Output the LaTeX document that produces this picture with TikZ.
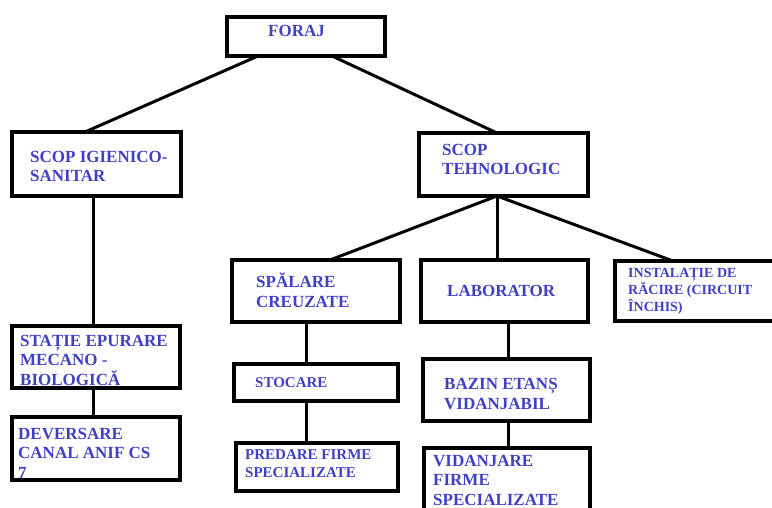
\documentclass[tikz,border=0pt]{standalone}
\usepackage{fontspec}
\setmainfont{Liberation Serif}
\definecolor{labelblue}{RGB}{64,64,196}
\tikzset{
  box/.style={draw=black, line width=3.3pt, rectangle, inner sep=0pt, outer sep=0pt, anchor=north west},
  link/.style={draw=black, line width=3pt},
  lbl/.style={text=labelblue, anchor=base west, align=left, inner sep=0pt,
              font=\fontsize{17}{19.2}\selectfont\bfseries},
  lblsmall/.style={lbl, font=\fontsize{14}{16.6}\selectfont\bfseries},
  lblmid/.style={lbl, font=\fontsize{15}{17.4}\selectfont\bfseries},
}
\begin{document}
\begin{tikzpicture}[x=1pt,y=-1pt]
\useasboundingbox (0,0) rectangle (772,508);
\clip (0,0) rectangle (772,508);

% boxes
\node[box, minimum width=158, minimum height=39] (foraj) at (227,17) {};
\node[box, minimum width=169, minimum height=64] (igien) at (12,132) {};
\node[box, minimum width=169, minimum height=63] (tehno) at (419,133) {};
\node[box, minimum width=168, minimum height=62] (statie) at (12,326) {};
\node[box, minimum width=168, minimum height=63] (dever) at (12,417) {};
\node[box, minimum width=168, minimum height=62] (spal) at (232,260) {};
\node[box, minimum width=167, minimum height=62] (lab) at (421,260) {};
\node[box, minimum width=190, minimum height=60] (racire) at (615,261) {};
\node[box, minimum width=164, minimum height=37] (stoc) at (234,364) {};
\node[box, minimum width=162, minimum height=48] (pred) at (236,443) {};
\node[box, minimum width=167, minimum height=62] (bazin) at (423,359) {};
\node[box, minimum width=166, minimum height=80] (vidan) at (424,448) {};

% connectors
\draw[link] (258,0 |- foraj.south) -- (85,0 |- igien.north);
\draw[link] (332,0 |- foraj.south) -- (497,0 |- tehno.north);
\draw[link] (93,0 |- igien.south) -- (93,0 |- statie.north);
\draw[link] (93,0 |- statie.south) -- (93,0 |- dever.north);
\draw[link] (497,0 |- tehno.south) -- (330,0 |- spal.north);
\draw[link] (497,0 |- tehno.south) -- (497,0 |- lab.north);
\draw[link] (497,0 |- tehno.south) -- (673,0 |- racire.north);
\draw[link] (306,0 |- spal.south) -- (306,0 |- stoc.north);
\draw[link] (306,0 |- stoc.south) -- (306,0 |- pred.north);
\draw[link] (508,0 |- lab.south) -- (508,0 |- bazin.north);
\draw[link] (508,0 |- bazin.south) -- (508,0 |- vidan.north);

% labels (placed at the baseline of their last line)
\node[lbl] (tforaj) at (268,37) {FORAJ};
\node[lbl] (tigien) at (30,182) {SCOP IGIENICO-\\SANITAR};
\node[lbl] (ttehno) at (442,175) {SCOP\\TEHNOLOGIC};
\node[lbl] (tstatie) at (20,385) {STAȚIE EPURARE\\MECANO -\\BIOLOGICĂ};
\node[lbl] (tdever) at (18,478) {DEVERSARE\\CANAL ANIF CS\\7};
\node[lbl] (tspal) at (256,307) {SPĂLARE\\CREUZATE};
\node[lbl] (tlab) at (447,297) {LABORATOR};
\node[lblsmall] (tracire) at (628,311) {INSTALAȚIE DE\\RĂCIRE (CIRCUIT\\ÎNCHIS)};
\node[lblmid] (tstoc) at (255,387) {STOCARE};
\node[lblmid] (tpred) at (245,477) {PREDARE FIRME\\SPECIALIZATE};
\node[lbl] (tbazin) at (444,409) {BAZIN ETANȘ\\VIDANJABIL};
\node[lbl] (tvidan) at (433,505) {VIDANJARE\\FIRME\\SPECIALIZATE};
\end{tikzpicture}
\end{document}
